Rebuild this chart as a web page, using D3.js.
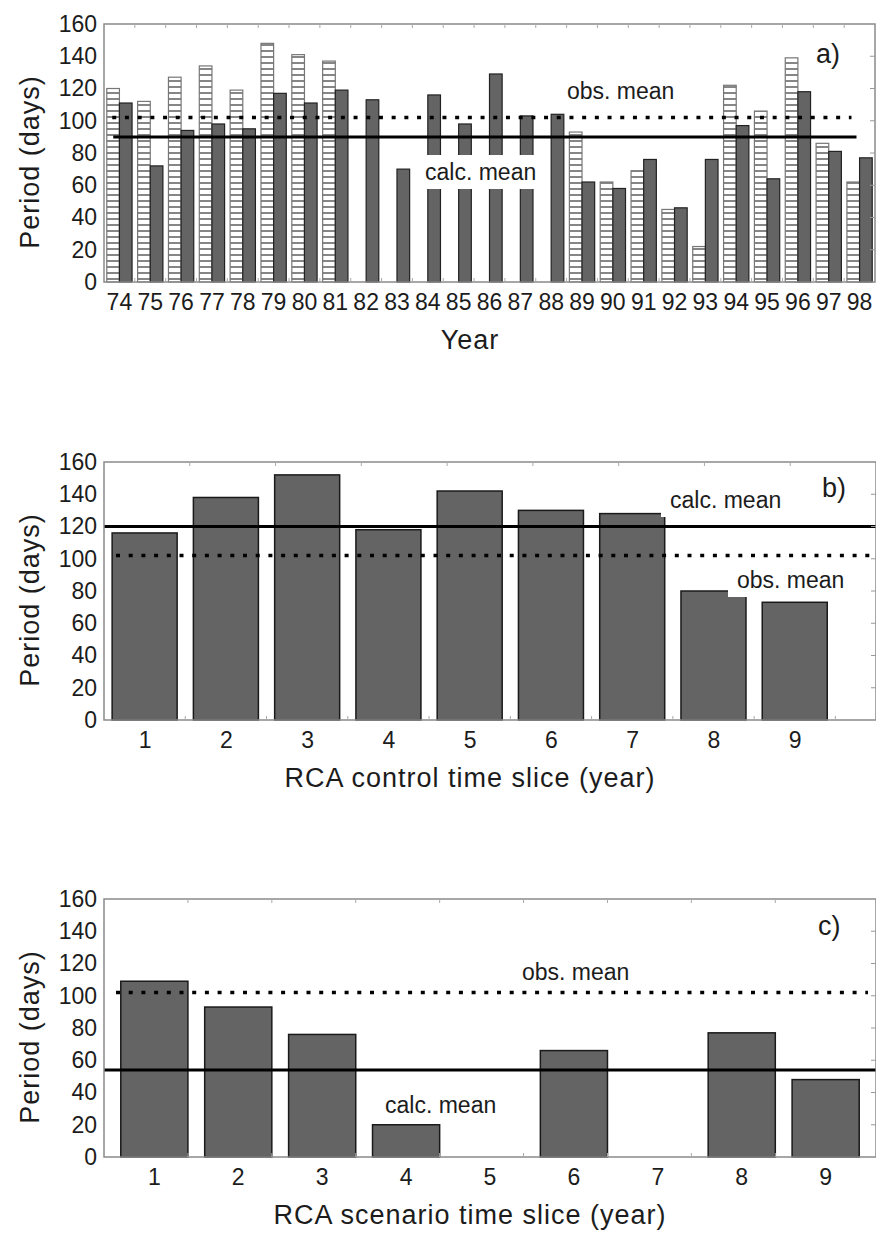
<!DOCTYPE html>
<html>
<head>
<meta charset="utf-8">
<script src="https://cdn.jsdelivr.net/npm/d3@7"></script>
<style>
  body { margin: 0; background: #fff; }
  text { font-family: "Liberation Sans", Arial, sans-serif; fill: #1c1c1c; }
</style>
</head>
<body>
<svg id="chart"></svg>
<script>
// values
const years = ['74', '75', '76', '77', '78', '79', '80', '81', '82', '83', '84', '85', '86',
  '87', '88', '89', '90', '91', '92', '93', '94', '95', '96', '97', '98'];
const obsPeriod = [120, 112, 127, 134, 119, 148, 141, 137, null, null, null, null, null,
  null, null, 93, 62, 69, 45, 22, 122, 106, 139, 86, 62];
const calcPeriod = [111, 72, 94, 98, 95, 117, 111, 119, 113, 70, 116, 98, 129,
  103, 104, 62, 58, 76, 46, 76, 97, 64, 118, 81, 77];
const obsMean = 102;
const calcMeanA = 90;

const slices = [1, 2, 3, 4, 5, 6, 7, 8, 9];
const controlPeriod = [116, 138, 152, 118, 142, 130, 128, 80, 73];
const calcMeanB = 120;
const scenarioPeriod = [109, 93, 76, 20, 0, 66, 0, 77, 48];
const calcMeanC = 54;

const yTicks = [0, 20, 40, 60, 80, 100, 120, 140, 160];

const width = 876;
const height = 1233;
const left = 104;
const right = 876;

const svg = d3.select('#chart')
  .attr('width', width)
  .attr('height', height);

// horizontal hatching for the observed bars
const pat = svg.append('defs').append('pattern')
  .attr('id', 'hatch')
  .attr('patternUnits', 'userSpaceOnUse')
  .attr('width', 8)
  .attr('height', 6);
pat.append('rect').attr('width', 8).attr('height', 6).attr('fill', '#fff');
pat.append('line')
  .attr('x1', 0).attr('x2', 8).attr('y1', 3).attr('y2', 3)
  .attr('stroke', '#444').attr('stroke-width', 1.3);

function makeY(top, bottom) {
  return d3.scaleLinear().domain([0, 160]).range([bottom, top]);
}

// frame, y axis, small inward ticks
function drawFrame(g, y, x0, x1, topTicks, bottomTicks, title) {
  const [bottom, top] = y.range();

  g.append('g')
    .attr('transform', `translate(${x0},0)`)
    .call(d3.axisLeft(y).tickValues(yTicks).tickSize(0).tickPadding(7))
    .call(a => a.select('.domain').remove())
    .selectAll('text')
    .attr('font-size', 23)
    .attr('fill', '#1c1c1c');

  g.append('rect')
    .attr('x', x0).attr('y', top)
    .attr('width', x1 - x0).attr('height', bottom - top)
    .attr('fill', 'none')
    .attr('stroke', '#8a8a8a')
    .attr('stroke-width', 1.5);

  g.selectAll('.rtick')
    .data(yTicks.slice(1, -1))
    .join('line')
    .attr('x1', x1 - 5).attr('x2', x1)
    .attr('y1', d => y(d)).attr('y2', d => y(d))
    .attr('stroke', '#999');

  g.selectAll('.ttick')
    .data(topTicks)
    .join('line')
    .attr('x1', d => d).attr('x2', d => d)
    .attr('y1', top).attr('y2', top + 4)
    .attr('stroke', '#aaa');

  g.selectAll('.btick')
    .data(bottomTicks)
    .join('line')
    .attr('x1', d => d).attr('x2', d => d)
    .attr('y1', bottom).attr('y2', bottom - 4)
    .attr('stroke', '#aaa');

  g.append('text')
    .attr('transform', `translate(30,${(top + bottom) / 2 + 9}) rotate(-90)`)
    .attr('text-anchor', 'middle')
    .attr('dy', '0.35em')
    .attr('font-size', 27)
    .attr('letter-spacing', 1)
    .text('Period (days)');

  g.append('text')
    .attr('x', 470)
    .attr('y', bottom + 67)
    .attr('text-anchor', 'middle')
    .attr('font-size', 27)
    .attr('letter-spacing', 1)
    .text(title);
}

function xLabels(g, x, bottom) {
  g.append('g')
    .attr('transform', `translate(0,${bottom})`)
    .call(d3.axisBottom(x).tickSize(0).tickPadding(12))
    .call(a => a.select('.domain').remove())
    .selectAll('text')
    .attr('font-size', 23)
    .attr('fill', '#1c1c1c');
}

function meanLines(g, y, xs, xd, solid, dotted) {
  g.append('line')
    .attr('x1', xs[0]).attr('x2', xs[1])
    .attr('y1', y(solid)).attr('y2', y(solid))
    .attr('stroke', '#000')
    .attr('stroke-width', 3);
  g.append('line')
    .attr('x1', xd[0]).attr('x2', xd[1])
    .attr('y1', y(dotted)).attr('y2', y(dotted))
    .attr('stroke', '#000')
    .attr('stroke-width', 3.5)
    .attr('stroke-dasharray', '4,8.7');
}

// label with a white box behind it, the box hides what is under it
function boxedLabel(g, x, y, text, size) {
  const t = g.append('text')
    .attr('x', x).attr('y', y)
    .attr('font-size', size)
    .text(text);
  const b = t.node().getBBox();
  g.insert('rect', () => t.node())
    .attr('x', b.x - 9).attr('y', b.y - 4)
    .attr('width', b.width + 18).attr('height', b.height + 8)
    .attr('fill', '#fff');
}

function panelLetter(g, x, y, text) {
  g.append('text')
    .attr('x', x).attr('y', y)
    .attr('font-size', 27)
    .text(text);
}

// ---------- a) ----------
{
  const g = svg.append('g');
  const y = makeY(24, 282);
  const x = d3.scaleBand().domain(years).range([left, 875]);
  const inner = d3.scaleBand().domain(['obs', 'calc'])
    .range([x.step() * 0.09, x.step() * 0.91]);

  const rows = years.map((yr, i) => ({ yr, obs: obsPeriod[i], calc: calcPeriod[i] }));

  g.selectAll('.obs')
    .data(rows.filter(d => d.obs != null))
    .join('rect')
    .attr('x', d => x(d.yr) + inner('obs'))
    .attr('y', d => y(d.obs))
    .attr('width', inner.bandwidth())
    .attr('height', d => y(0) - y(d.obs))
    .attr('fill', 'url(#hatch)')
    .attr('stroke', '#777')
    .attr('stroke-width', 1.2);

  g.selectAll('.calc')
    .data(rows)
    .join('rect')
    .attr('x', d => x(d.yr) + inner('calc'))
    .attr('y', d => y(d.calc))
    .attr('width', inner.bandwidth())
    .attr('height', d => y(0) - y(d.calc))
    .attr('fill', '#646464')
    .attr('stroke', '#222')
    .attr('stroke-width', 1.2);

  const xs = [x(years[0]) + x.step() * 0.3, x(years[years.length - 1]) + x.step() * 0.4];
  meanLines(g, y, xs, [xs[0] - 1, xs[1] - 5], calcMeanA, obsMean);

  boxedLabel(g, 425, 180, 'calc. mean', 23);
  boxedLabel(g, 567, 99, 'obs. mean', 23);
  panelLetter(g, 816, 63, 'a)');

  drawFrame(g, y, left, 875,
    years.slice(1).map(d => x(d)),
    years.slice(1).map(d => x(d)),
    'Year');
  xLabels(g, x, 282);
}

// ---------- b) ----------
{
  const g = svg.append('g');
  const y = makeY(462, 720);
  const x = d3.scaleLinear().domain([0.5, 10]).range([left, right]);
  const bw = x(1.4) - x(0.6);

  g.selectAll('.bar')
    .data(slices.map((s, i) => ({ s, v: controlPeriod[i] })))
    .join('rect')
    .attr('x', d => x(d.s) - bw / 2)
    .attr('y', d => y(d.v))
    .attr('width', bw)
    .attr('height', d => y(0) - y(d.v))
    .attr('fill', '#646464')
    .attr('stroke', '#1a1a1a')
    .attr('stroke-width', 1.5);

  meanLines(g, y, [left, right], [left + 12, right - 2], calcMeanB, obsMean);

  boxedLabel(g, 670, 508, 'calc. mean', 23);
  boxedLabel(g, 737, 588, 'obs. mean', 23);
  panelLetter(g, 822, 497, 'b)');

  drawFrame(g, y, left, right,
    d3.range(1, 9).map(k => left + k * (right - left) / 9),
    slices.map(s => x(s + 0.5)),
    'RCA control time slice (year)');

  const xa = d3.scalePoint().domain(slices.map(String))
    .range([x(1), x(9)]);
  xLabels(g, xa, 720);
}

// ---------- c) ----------
{
  const g = svg.append('g');
  const y = makeY(899, 1157);
  const x = d3.scaleBand().domain(slices.map(String)).range([left, right]).padding(0.2);

  g.selectAll('.bar')
    .data(slices.map((s, i) => ({ s: String(s), v: scenarioPeriod[i] })).filter(d => d.v > 0))
    .join('rect')
    .attr('x', d => x(d.s))
    .attr('y', d => y(d.v))
    .attr('width', x.bandwidth())
    .attr('height', d => y(0) - y(d.v))
    .attr('fill', '#646464')
    .attr('stroke', '#1a1a1a')
    .attr('stroke-width', 1.5);

  meanLines(g, y, [left, right], [left + 12, right - 8], calcMeanC, obsMean);

  boxedLabel(g, 385, 1113, 'calc. mean', 23);
  boxedLabel(g, 522, 980, 'obs. mean', 23);
  panelLetter(g, 818, 935, 'c)');

  drawFrame(g, y, left, right,
    d3.range(1, 9).map(k => left + k * x.step()),
    d3.range(1, 9).map(k => left + k * x.step()),
    'RCA scenario time slice (year)');
  xLabels(g, x, 1157);
}
</script>
</body>
</html>
